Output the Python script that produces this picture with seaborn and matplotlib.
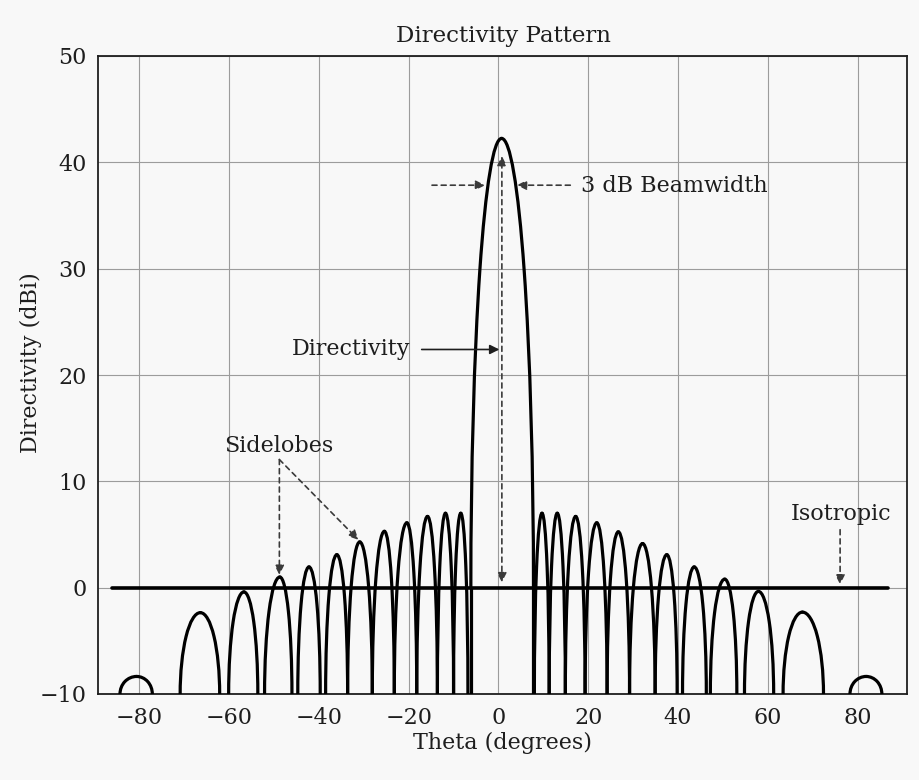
import numpy as np
import pandas as pd
import matplotlib.pyplot as plt
import seaborn as sns
from matplotlib.patches import Arc

# sidelobes: feet where each lobe meets the -10 dB floor,
# peak angle and peak level
lobe_left_foot = [-84.3, -70.9, -60.1, -52.1, -44.7, -38.5, -33.6, -28.1, -23.2, -18.2, -13.6, -10.0,
                  8.0, 11.3, 14.9, 19.3, 24.2, 29.2, 34.9, 41.0, 47.2, 54.8, 63.4, 78.3]
lobe_peak_theta = [-80.6, -66.4, -56.7, -48.7, -42.2, -36.0, -30.9, -25.4, -20.4, -15.8, -11.8, -8.4,
                   9.7, 13.1, 17.2, 21.9, 26.7, 32.1, 37.5, 43.6, 50.4, 57.9, 67.7, 81.9]
lobe_right_foot = [-77.1, -62.1, -53.6, -46.0, -39.7, -33.6, -28.1, -23.2, -18.2, -13.6, -10.0, -6.8,
                   11.3, 14.9, 19.3, 24.2, 29.2, 34.9, 39.8, 46.3, 53.1, 61.3, 72.4, 85.4]
lobe_peak_db = [-8.35, -2.35, -0.4, 1.0, 1.95, 3.1, 4.3, 5.3, 6.1, 6.7, 7.0, 7.0,
                7.0, 7.0, 6.7, 6.1, 5.25, 4.15, 3.1, 1.95, 0.8, -0.35, -2.3, -8.35]

# main beam
main_left_foot = -6.15
main_right_foot = 7.8
main_peak_theta = 0.7
main_peak_db = 42.25
main_shoulder_db = 0.0   # sides are straight below this level

# isotropic reference
iso_theta = [-86.1, 86.7]
iso_db = [0.0, 0.0]

x_ticks = [-80, -60, -40, -20, 0, 20, 40, 60, 80]
y_ticks = [-10, 0, 10, 20, 30, 40, 50]

sns.set_theme(style="whitegrid")
plt.rcParams["font.family"] = ["DejaVu Serif", "DejaVu Sans"]
plt.rcParams["text.color"] = "#1e1e1e"

bg = "#f8f8f8"
fig = plt.figure(figsize=(9.19, 7.8), dpi=100, facecolor=bg)
ax = fig.add_axes([98 / 919, 1 - 694 / 780, 809 / 919, 638 / 780])
ax.set_facecolor(bg)

lw = 2.3


def half_arcs(left, peak_x, right, peak_y, base):
    for w, t1, t2 in [(peak_x - left, 90, 180), (right - peak_x, 0, 90)]:
        ax.add_patch(Arc((peak_x, base), 2 * w, 2 * (peak_y - base), theta1=t1, theta2=t2,
                         color="black", lw=lw, capstyle="round", zorder=4))


for l, px, r, py in zip(lobe_left_foot, lobe_peak_theta, lobe_right_foot, lobe_peak_db):
    half_arcs(l, px, r, py, -10)

half_arcs(main_left_foot, main_peak_theta, main_right_foot, main_peak_db, main_shoulder_db)
ax.vlines([main_left_foot, main_right_foot], -10, main_shoulder_db, color="black", lw=lw, zorder=4)

sns.lineplot(x=iso_theta, y=iso_db, color="black", lw=2.6, ax=ax, zorder=3)

ax.set_xlim(-89.2, 91.0)
ax.set_ylim(-10, 50)
ax.set_xticks(x_ticks)
ax.set_yticks(y_ticks)
ax.tick_params(length=0, labelsize=16, colors="#1e1e1e")
ax.tick_params(axis="x", pad=9)
ax.tick_params(axis="y", pad=8)
ax.grid(True, color="#9c9c9c", lw=0.8)
for s in ax.spines.values():
    s.set_color("#1e1e1e")
    s.set_linewidth(1.3)
    s.set_visible(True)
ax.set_xlabel("")
ax.set_ylabel("")

fig.text(503 / 919, 1 - 42 / 780, "Directivity Pattern", ha="center", va="baseline", fontsize=16.5)
fig.text(502 / 919, 1 - 749 / 780, "Theta (degrees)", ha="center", va="baseline", fontsize=16)
fig.text(31 / 919, 1 - 363 / 780, "Directivity (dBi)", ha="center", va="center",
         rotation=90, fontsize=16)

dash = dict(arrowstyle="-|>", color="#3a3a3a", lw=1.2, linestyle=(0, (3, 2.5)),
            shrinkA=0, shrinkB=0, mutation_scale=14)
solid = dict(arrowstyle="-|>", color="#1e1e1e", lw=1.2, shrinkA=0, shrinkB=0, mutation_scale=14)

# 3 dB beamwidth
ax.annotate("", xy=(-2.96, 37.85), xytext=(-14.8, 37.85), arrowprops=dash, zorder=5)
ax.annotate("", xy=(4.1, 37.85), xytext=(16.0, 37.85), arrowprops=dash, zorder=5)
ax.text(18.4, 37.2, "3 dB Beamwidth", fontsize=16, va="baseline", ha="left")

# directivity
ax.annotate("", xy=(0.2, 22.4), xytext=(-17.1, 22.4), arrowprops=solid, zorder=5)
ax.text(-19.7, 21.85, "Directivity", fontsize=16, va="baseline", ha="right")
ax.annotate("", xy=(0.76, 40.6), xytext=(0.76, 0.5),
            arrowprops=dict(dash, arrowstyle="<|-|>"), zorder=5)

# sidelobes
ax.text(-49.0, 12.8, "Sidelobes", fontsize=16, va="baseline", ha="center")
ax.annotate("", xy=(-48.8, 1.2), xytext=(-48.8, 12.05), arrowprops=dash, zorder=5)
ax.annotate("", xy=(-31.2, 4.5), xytext=(-48.8, 12.05), arrowprops=dash, zorder=5)

# isotropic
ax.text(76.4, 6.35, "Isotropic", fontsize=16, va="baseline", ha="center")
ax.annotate("", xy=(76.1, 0.3), xytext=(76.1, 5.45), arrowprops=dash, zorder=5)

fig.savefig("out.png", dpi=100, facecolor=bg)
